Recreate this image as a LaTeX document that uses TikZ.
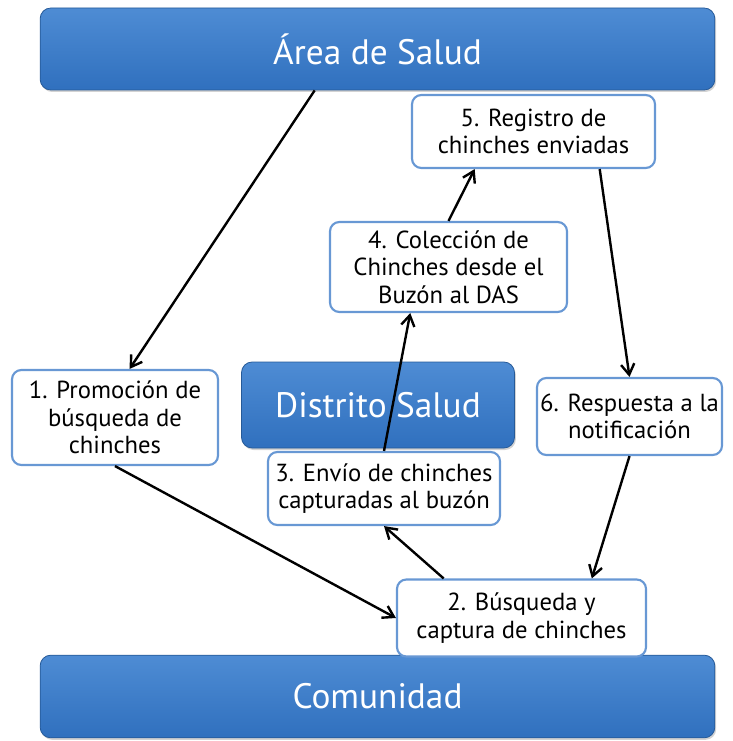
\documentclass[tikz,border=0pt]{standalone}
\usepackage{fontspec}
\setmainfont{PT Sans}
\usepackage{xcolor}
\usetikzlibrary{shapes, arrows.meta, calc, shadows}

\definecolor{salud}{RGB}{48,112,190}
\definecolor{saludtop}{RGB}{78,140,212}
\definecolor{borde}{RGB}{104,152,212}

\begin{document}
\begin{tikzpicture}[x=0.75pt, y=-0.75pt,
    bar/.style = {shape=rectangle, rounded corners=8pt, draw=salud!80!black,
        top color=saludtop, bottom color=salud, text=white,
        font=\fontsize{26.5}{30}\selectfont, line width=0.6pt,
        drop shadow={opacity=0.35, shadow xshift=1pt, shadow yshift=-1.5pt}},
    box/.style = {shape=rectangle, rounded corners=7pt, draw=borde,
        line width=1.6pt, fill=white, align=center, inner sep=0pt,
        font=\fontsize{18.5}{20.5}\selectfont},
    flow/.style = {-{Straight Barb[length=8pt, width=10pt, line width=1.8pt]},
        line width=1.8pt}]
    \useasboundingbox (0,0) rectangle (732,741);

    % niveles
    \node[bar, minimum width=506pt, minimum height=61.5pt] (area) at (377.5,49) {Área de Salud};
    \node[bar, minimum width=506pt, minimum height=62pt] (comunidad) at (377.5,696.5) {Comunidad};
    \node[bar, minimum width=204.75pt, minimum height=64.5pt,
        font=\fontsize{26.5}{30}\selectfont] (distrito) at (378,405) {Distrito Salud};

    % pasos
    \node[box, minimum width=154.5pt, minimum height=71.25pt] (promo) at (115,417.5)
        {1. Promoción de\\búsqueda de\\chinches};
    \node[box, minimum width=186.75pt, minimum height=57.75pt] (busqueda) at (521.5,618)
        {2. Búsqueda y\\captura de chinches};
    \node[box, minimum width=174pt, minimum height=54.75pt] (envio) at (384,488.5)
        {3. Envío de chinches\\capturadas al buzón};
    \node[box, minimum width=177.75pt, minimum height=67.5pt] (coleccion) at (448.5,267)
        {4. Colección de\\Chinches desde el\\Buzón al DAS};
    \node[box, minimum width=182.25pt, minimum height=54.75pt] (registro) at (533.5,131.5)
        {5. Registro de\\chinches enviadas};
    \node[box, minimum width=138.75pt, minimum height=57.75pt] (respuesta) at (629.5,416.5)
        {6. Respuesta a la\\notificación};

    % flechas
    \draw[flow] ($(area.south west)!0.407!(area.south east)$)
        -- ($(promo.north west)!0.57!(promo.north east)$);
    \draw[flow] (promo.south) -- (busqueda.west);
    \draw[flow] ($(busqueda.north west)!0.19!(busqueda.north east)$) -- (envio.south);
    \draw[flow] (envio.north) -- ($(coleccion.south west)!0.34!(coleccion.south east)$);
    \draw[flow] (coleccion.north) -- ($(registro.south west)!0.26!(registro.south east)$);
    \draw[flow] ($(registro.south west)!0.77!(registro.south east)$) -- (respuesta.north);
    \draw[flow] (respuesta.south) -- ($(busqueda.north west)!0.78!(busqueda.north east)$);
\end{tikzpicture}
\end{document}
